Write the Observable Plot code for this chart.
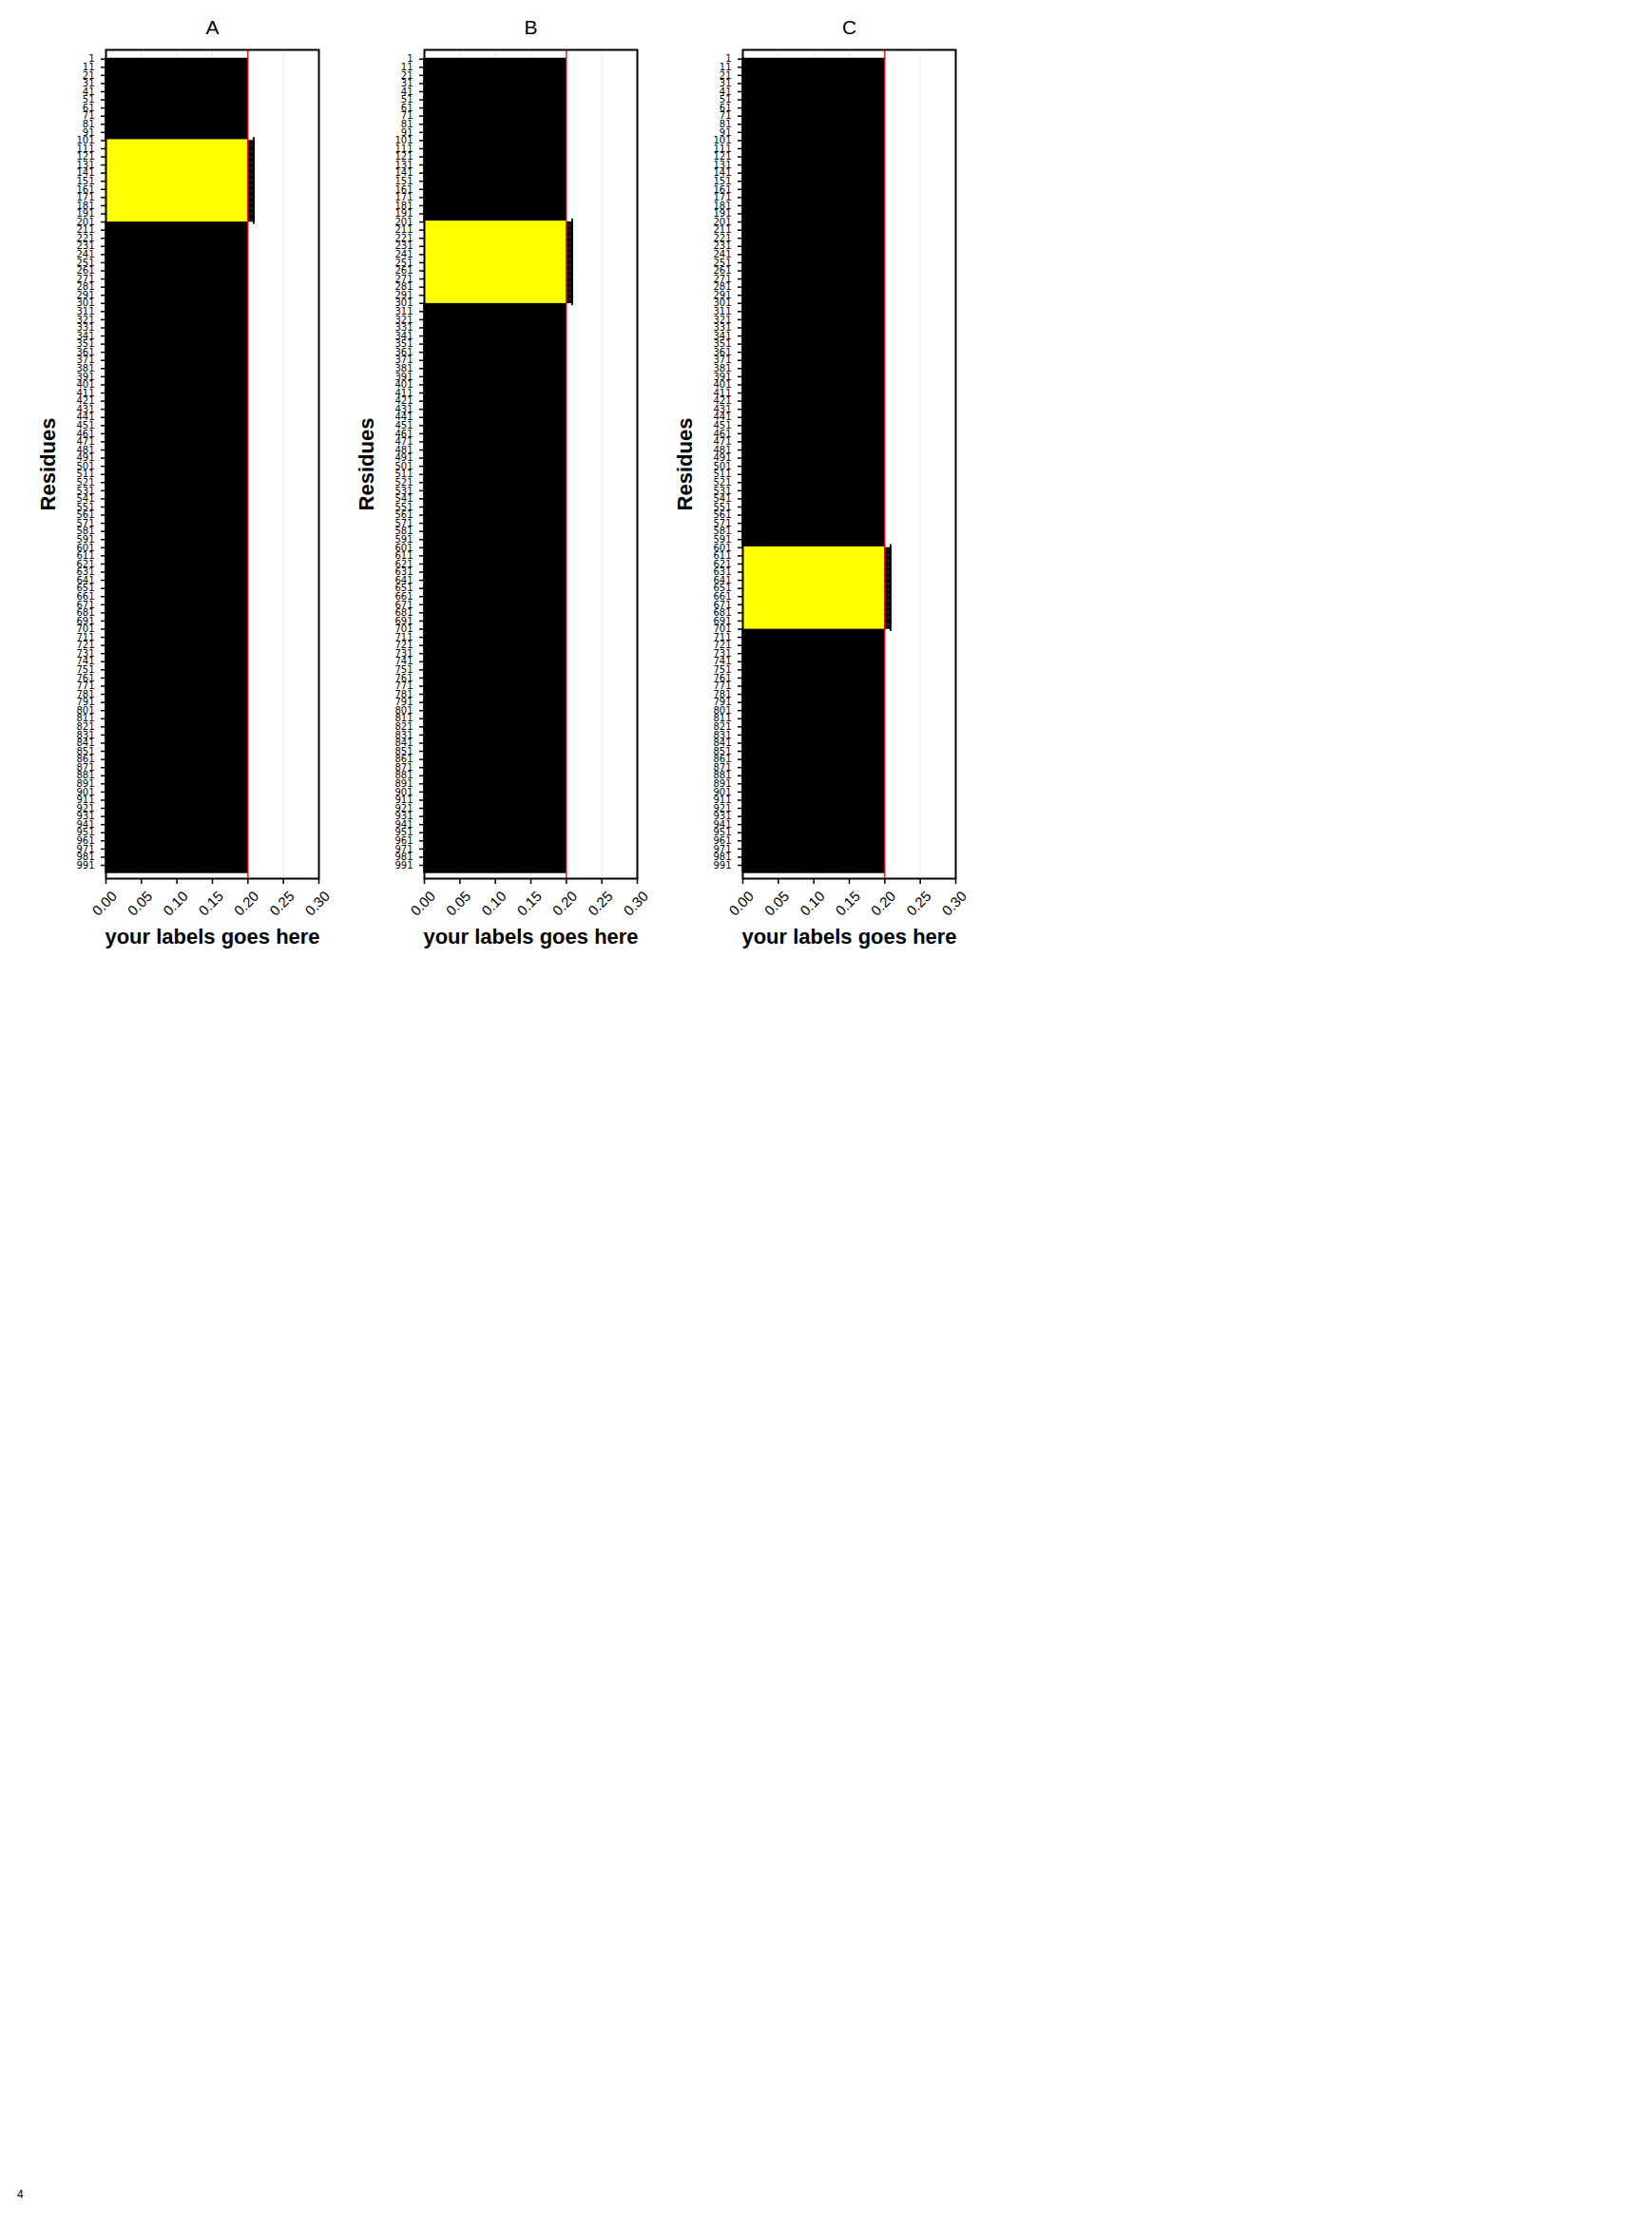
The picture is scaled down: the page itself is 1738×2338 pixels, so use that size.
<!DOCTYPE html>
<html>
<head>
<meta charset="utf-8">
<script src="https://cdn.jsdelivr.net/npm/d3@7"></script>
<script src="https://cdn.jsdelivr.net/npm/@observablehq/plot@0.6"></script>
<style>
  html, body { margin: 0; padding: 0; background: #ffffff; }
  #page { position: relative; width: 1738px; height: 2338px; background: #ffffff; font-family: "Liberation Sans", Arial, sans-serif; }
  .panel { position: absolute; top: 0; }
  .panel svg { overflow: visible; }
  #pagenum { position: absolute; left: 18px; top: 2302px; font-size: 12px; font-family: "Liberation Sans", Arial, sans-serif; color: #000; }
</style>
</head>
<body>
<div id="page"><div id="pagenum">4</div></div>
<script>
// ---- data ----
const panels = ["A", "B", "C"];
const residues = d3.range(1, 1001);            // residue numbers 1..1000
const values = Array(1000).fill(0.2);           // bar value per residue
const highlightStart = [101, 201, 601];         // highlighted residue range per panel
const highlightEnd = [200, 300, 700];
const errorUpper = 0.208;                       // upper error bound for highlighted residues
const cutoff = 0.2;                             // red reference line
const xTicks = [0, 0.05, 0.10, 0.15, 0.20, 0.25, 0.30];
const yTicks = d3.range(1, 1000, 10);           // 1, 11, 21, ..., 991
const xLabel = "your labels goes here";
const yLabel = "Residues";

const page = document.getElementById("page");
const W = 360, H = 1010;

panels.forEach((name, i) => {
  const rows = residues.map((r, k) => ({
    residue: r,
    value: values[k],
    hl: r >= highlightStart[i] && r <= highlightEnd[i]
  }));
  const normal = rows.filter(d => !d.hl);
  const hl = rows.filter(d => d.hl);

  const chart = Plot.plot({
    width: W,
    height: H,
    marginTop: 52,
    marginBottom: 86,
    marginLeft: 111,
    marginRight: 25,
    style: { fontFamily: "Liberation Sans, Arial, sans-serif", background: "transparent", overflow: "visible" },
    x: { domain: [0, 0.3], axis: null },
    y: { type: "linear", domain: [1, 991], range: [61.7, 910], axis: null },
    marks: [
      Plot.gridX(xTicks, { stroke: "#ebebeb", strokeOpacity: 1, strokeWidth: 1 }),
      Plot.rect(normal, { x1: 0, x2: "value", y1: d => d.residue - 0.5, y2: d => d.residue + 0.5, fill: "#000000", stroke: "#000000", strokeWidth: 1 }),
      Plot.rect(hl, { x1: 0, x2: "value", y1: d => d.residue - 0.5, y2: d => d.residue + 0.5, fill: "#ffff00", stroke: "#ffff00", strokeWidth: 1 }),
      Plot.ruleY(hl, { y: "residue", x1: "value", x2: () => errorUpper, stroke: "#000000", strokeWidth: 1.2 }),
      Plot.ruleX(hl, { x: () => errorUpper, y1: d => d.residue - 4, y2: d => d.residue + 4, stroke: "#000000", strokeWidth: 1.5 }),
      Plot.ruleX([cutoff], { stroke: "#ff0000", strokeWidth: 1.3 }),
      Plot.frame({ stroke: "#000000", strokeWidth: 2 }),
      Plot.axisY(yTicks, { tickSize: 5, tickPadding: 7, fontSize: 10, fontFamily: "DejaVu Sans", label: null, stroke: "#000000", strokeWidth: 1.5, fill: "#000000" }),
      Plot.axisX(xTicks, { tickSize: 6, tickFormat: () => "", label: null, stroke: "#000000", strokeWidth: 1.5 }),
      Plot.text(xTicks, { x: d => d, frameAnchor: "bottom", dx: 9, dy: 16, rotate: -45, textAnchor: "end", lineAnchor: "middle", text: d => d3.format(".2f")(d), fontSize: 15, fill: "#000000" }),
      Plot.text([xLabel], { frameAnchor: "bottom", dy: 61, textAnchor: "middle", lineAnchor: "middle", fontSize: 22, fontWeight: "bold", fill: "#000000" }),
      Plot.text([yLabel], { frameAnchor: "left", dx: -61, rotate: -90, textAnchor: "middle", lineAnchor: "middle", fontSize: 22, fontWeight: "bold", fill: "#000000" }),
      Plot.text([name], { frameAnchor: "top", dy: -23, textAnchor: "middle", lineAnchor: "middle", fontSize: 21, fill: "#000000" })
    ]
  });
  const div = document.createElement("div");
  div.className = "panel";
  div.style.left = (i * 335) + "px";
  div.appendChild(chart);
  page.appendChild(div);
});
</script>
</body>
</html>
